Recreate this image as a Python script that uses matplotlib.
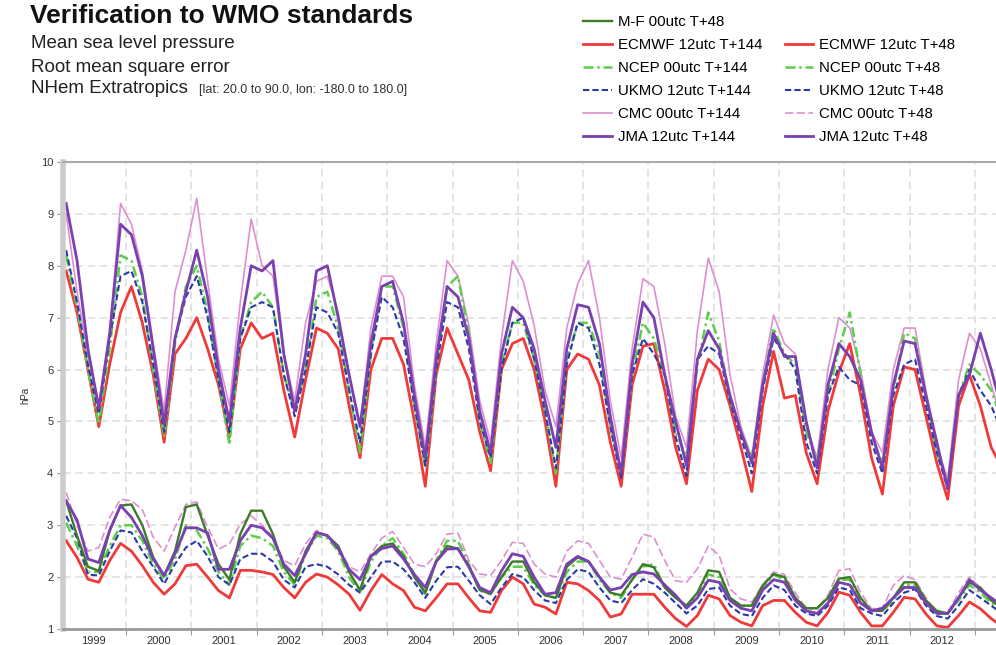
import numpy as np
import matplotlib.pyplot as plt
from matplotlib.lines import Line2D

plt.rcParams['font.family'] = ['Liberation Sans', 'DejaVu Sans']

# samples every second month (Feb, Apr, Jun, Aug, Oct, Dec) starting Feb 1999
months = np.arange(1, 174, 2)
t = 1999 + months / 12.0

year_labels = [str(y) for y in range(1999, 2013)]

# ---- T+144 (upper group) ----
jma_144 = [9.2, 8.1, 6.4, 5.25, 6.7, 8.8,
           8.6, 7.8, 6.4, 4.95, 6.6, 7.5,
           8.3, 7.4, 6.0, 5.0, 6.8, 8.0,
           7.9, 8.1, 6.3, 5.2, 6.3, 7.9,
           8.0, 7.0, 5.9, 4.9, 6.5, 7.6,
           7.7, 6.9, 5.5, 4.3, 6.2, 7.6,
           7.4, 6.6, 5.2, 4.4, 6.3, 7.2,
           7.0, 6.4, 5.4, 4.5, 6.4, 7.25,
           7.2, 6.5, 5.1, 4.0, 6.1, 7.3,
           7.0, 5.9, 5.0, 4.15, 6.2, 6.75,
           6.4, 5.5, 4.8, 4.2, 5.7, 6.7,
           6.25, 6.25, 5.0, 4.1, 5.7, 6.5,
           6.25, 5.8, 4.8, 4.1, 5.7, 6.55,
           6.5, 5.5, 4.6, 3.7, 5.5, 5.9,
           6.7, 6.0, 5.2]
cmc_144 = [9.0, 7.5, 6.3, 5.35, 6.7, 9.2,
           8.8, 7.9, 6.5, 5.2, 7.5, 8.3,
           9.3, 7.7, 6.2, 5.3, 7.3, 8.9,
           8.0, 7.8, 6.3, 5.4, 6.9, 7.7,
           7.8, 7.1, 5.9, 4.9, 6.8, 7.8,
           7.8, 7.4, 5.7, 4.5, 6.5, 8.1,
           7.8, 6.85, 5.4, 4.6, 6.6, 8.1,
           7.7, 6.85, 5.6, 4.9, 6.8, 7.65,
           8.1, 7.0, 5.4, 4.3, 6.4, 7.75,
           7.6, 6.5, 5.1, 4.5, 6.75, 8.15,
           7.5, 5.9, 4.9, 4.3, 5.9, 7.05,
           6.5, 6.3, 4.9, 4.3, 6.0, 7.0,
           6.8, 6.0, 4.8, 4.4, 6.0, 6.8,
           6.8, 5.6, 4.5, 3.9, 5.8, 6.7,
           6.4, 5.7, 5.0]
ukmo_144 = [8.3, 7.3, 6.1, 5.15, 6.6, 7.8,
            7.9, 7.3, 6.1, 4.8, 6.6, 7.4,
            7.8, 7.0, 5.8, 4.8, 6.6, 7.2,
            7.3, 7.2, 5.9, 5.1, 6.0, 7.2,
            7.1, 6.7, 5.6, 4.6, 6.3, 7.4,
            7.2, 6.6, 5.3, 4.15, 6.0, 7.3,
            7.2, 6.4, 5.0, 4.3, 6.0, 6.9,
            7.0, 6.2, 5.2, 4.1, 6.1, 6.9,
            6.8, 6.1, 4.9, 3.9, 5.9, 6.6,
            6.3, 5.9, 4.7, 3.95, 6.2, 6.45,
            6.3, 5.4, 4.7, 4.0, 5.6, 6.6,
            6.3, 6.0, 4.6, 4.0, 5.5, 6.05,
            5.8, 5.7, 4.6, 4.0, 5.5, 6.1,
            6.2, 5.3, 4.4, 3.7, 5.5, 6.0,
            5.6, 5.3, 4.8]
ncep_144 = [8.2, 7.2, 6.0, 4.95, 6.4, 8.2,
            8.1, 7.4, 6.0, 4.7, 6.5, 7.6,
            8.0, 7.1, 5.8, 4.55, 6.6, 7.3,
            7.5, 7.2, 5.9, 5.2, 6.0, 7.4,
            7.5, 6.8, 5.6, 4.4, 6.3, 7.6,
            7.6, 6.8, 5.3, 4.1, 6.0, 7.6,
            7.8, 6.7, 5.0, 4.2, 6.1, 6.9,
            6.9, 6.2, 5.2, 4.0, 6.2, 6.9,
            6.9, 6.3, 4.9, 4.0, 5.9, 6.9,
            6.6, 5.9, 4.8, 4.3, 6.1, 7.1,
            6.55, 5.4, 4.8, 4.3, 5.7, 6.8,
            6.3, 6.1, 4.8, 4.25, 5.5, 6.4,
            7.1, 5.9, 4.7, 4.2, 5.6, 6.7,
            6.6, 5.5, 4.4, 3.8, 5.5, 6.1,
            5.9, 5.6, 5.0]
ecmwf_144 = [7.9, 7.1, 6.0, 4.9, 6.1, 7.1,
             7.6, 6.9, 5.9, 4.6, 6.3, 6.6,
             7.0, 6.4, 5.7, 4.7, 6.4, 6.9,
             6.6, 6.7, 5.6, 4.7, 5.8, 6.8,
             6.7, 6.4, 5.3, 4.3, 6.0, 6.6,
             6.6, 6.1, 5.0, 3.75, 5.9, 6.8,
             6.3, 5.8, 4.8, 4.05, 6.0, 6.5,
             6.6, 6.0, 5.0, 3.75, 6.0, 6.3,
             6.2, 5.7, 4.6, 3.75, 5.7, 6.45,
             6.5, 5.6, 4.5, 3.8, 5.6, 6.2,
             6.0, 5.3, 4.5, 3.65, 5.3, 6.35,
             5.45, 5.5, 4.4, 3.8, 5.2, 5.95,
             6.5, 5.5, 4.3, 3.6, 5.3, 6.05,
             6.0, 5.1, 4.2, 3.5, 5.3, 5.9,
             5.3, 4.5, 4.1]

# ---- T+48 (lower group) ----
cmc_48 = [3.63, 3.0, 2.5, 2.57, 3.15, 3.5,
          3.47, 3.3, 2.77, 2.5, 2.96, 3.4,
          3.45, 2.96, 2.54, 2.64, 3.02, 3.18,
          3.0, 2.77, 2.32, 2.22, 2.64, 2.9,
          2.8, 2.6, 2.2, 2.1, 2.45, 2.75,
          2.88, 2.57, 2.25, 2.2, 2.45, 2.83,
          2.85, 2.32, 2.06, 2.03, 2.32, 2.67,
          2.65, 2.25, 2.06, 2.0, 2.5, 2.7,
          2.65, 2.32, 2.0, 1.96, 2.38, 2.83,
          2.77, 2.32, 1.93, 1.9, 2.16, 2.6,
          2.42, 1.77, 1.58, 1.52, 1.85, 2.1,
          2.05, 1.7, 1.39, 1.4, 1.65, 2.13,
          2.16, 1.7, 1.39, 1.4, 1.84, 2.03,
          1.95, 1.6, 1.32, 1.32, 1.7, 2.0,
          1.8, 1.6, 1.45]
mf_48 = [3.47, 2.8, 2.2, 2.12, 2.9, 3.38,
         3.4, 3.0, 2.38, 2.03, 2.5, 3.35,
         3.4, 2.8, 2.25, 1.95, 2.83, 3.28,
         3.28, 2.83, 2.2, 1.9, 2.5, 2.86,
         2.8, 2.6, 2.1, 1.75, 2.4, 2.6,
         2.65, 2.4, 2.0, 1.7, 2.3, 2.6,
         2.55, 2.2, 1.75, 1.68, 2.0, 2.3,
         2.3, 1.9, 1.65, 1.6, 2.2, 2.38,
         2.3, 2.0, 1.7, 1.65, 1.95, 2.25,
         2.19, 1.8, 1.6, 1.45, 1.7, 2.13,
         2.1, 1.6, 1.45, 1.45, 1.84, 2.06,
         2.0, 1.6, 1.4, 1.4, 1.6, 1.97,
         2.0, 1.6, 1.35, 1.35, 1.6, 1.9,
         1.9, 1.55, 1.35, 1.3, 1.6, 1.9,
         1.8, 1.55, 1.4]
jma_48 = [3.47, 3.1, 2.35, 2.28, 2.9, 3.38,
          3.15, 2.8, 2.35, 2.03, 2.45, 2.95,
          2.95, 2.85, 2.15, 2.15, 2.7, 3.0,
          2.95, 2.75, 2.25, 2.03, 2.45, 2.86,
          2.8, 2.55, 2.15, 1.95, 2.4, 2.55,
          2.6, 2.35, 2.05, 1.8, 2.3, 2.54,
          2.55, 2.2, 1.8, 1.7, 2.12, 2.45,
          2.4, 2.0, 1.67, 1.7, 2.25, 2.4,
          2.3, 2.0, 1.75, 1.8, 2.05, 2.1,
          2.06, 1.85, 1.65, 1.4, 1.6, 1.94,
          1.9, 1.55, 1.4, 1.35, 1.75, 1.95,
          1.9, 1.55, 1.35, 1.3, 1.5, 1.9,
          1.85, 1.5, 1.35, 1.4, 1.6, 1.8,
          1.8, 1.5, 1.3, 1.3, 1.6, 1.95,
          1.75, 1.6, 1.45]
ncep_48 = [3.05, 2.6, 2.1, 2.1, 2.6, 3.0,
           3.0, 2.7, 2.25, 1.96, 2.35, 3.0,
           2.9, 2.55, 2.1, 1.85, 2.6, 2.8,
           2.75, 2.6, 2.1, 1.85, 2.45, 2.8,
           2.75, 2.5, 2.0, 1.7, 2.3, 2.6,
           2.75, 2.45, 2.05, 1.67, 2.32, 2.7,
           2.7, 2.25, 1.74, 1.67, 2.0, 2.2,
           2.2, 1.85, 1.65, 1.6, 2.1, 2.3,
           2.3, 1.95, 1.7, 1.6, 1.95, 2.2,
           2.25, 1.8, 1.6, 1.45, 1.65, 2.05,
           2.0, 1.6, 1.45, 1.45, 1.8, 2.05,
           1.95, 1.6, 1.4, 1.4, 1.6, 1.95,
           1.95, 1.55, 1.35, 1.35, 1.55, 1.85,
           1.85, 1.55, 1.3, 1.3, 1.55, 1.85,
           1.7, 1.5, 1.35]
ukmo_48 = [3.18, 2.75, 2.05, 2.03, 2.5, 2.9,
           2.86, 2.5, 2.2, 1.87, 2.25, 2.57,
           2.7, 2.4, 2.0, 1.85, 2.35, 2.45,
           2.45, 2.3, 1.95, 1.8, 2.2, 2.25,
           2.2, 2.05, 1.85, 1.7, 2.0, 2.3,
           2.3, 2.15, 1.9, 1.6, 1.93, 2.19,
           2.2, 1.93, 1.65, 1.48, 1.8, 2.06,
           2.0, 1.75, 1.55, 1.5, 1.95, 2.15,
           2.1, 1.8, 1.55, 1.5, 1.75, 1.96,
           1.87, 1.7, 1.5, 1.3, 1.45, 1.77,
           1.8, 1.45, 1.29, 1.25, 1.6, 1.84,
           1.75, 1.45, 1.3, 1.25, 1.45, 1.8,
           1.75, 1.4, 1.3, 1.25, 1.5, 1.7,
           1.77, 1.45, 1.25, 1.2, 1.45, 1.75,
           1.6, 1.45, 1.3]
ecmwf_48 = [2.7, 2.38, 1.96, 1.9, 2.32, 2.65,
            2.5, 2.22, 1.9, 1.67, 1.87, 2.22,
            2.25, 2.0, 1.74, 1.6, 2.13, 2.13,
            2.1, 2.05, 1.8, 1.6, 1.9, 2.06,
            2.0, 1.85, 1.67, 1.36, 1.74, 2.05,
            1.87, 1.74, 1.42, 1.35, 1.6, 1.87,
            1.87, 1.6, 1.35, 1.32, 1.74, 2.0,
            1.87, 1.48, 1.42, 1.29, 1.9, 1.87,
            1.74, 1.55, 1.23, 1.29, 1.67, 1.67,
            1.67, 1.42, 1.2, 1.05, 1.26, 1.65,
            1.58, 1.26, 1.13, 1.06, 1.45, 1.55,
            1.55, 1.32, 1.13, 1.06, 1.32, 1.71,
            1.65, 1.32, 1.06, 1.06, 1.32, 1.61,
            1.58, 1.29, 1.06, 1.03, 1.26, 1.52,
            1.39, 1.2, 1.05]

c_mf = "#3d7a2a"
c_ec = "#f03a3a"
c_ncep = "#5ccf4a"
c_ukmo = "#2b3aa8"
c_cmc = "#dd8fd0"
c_jma = "#7a3fb0"

fig = plt.figure(figsize=(9.96, 6.45), dpi=100)
ax = fig.add_axes([63 / 996, 1 - 629 / 645, (996 - 63) / 996, (629 - 162) / 645])

lines = {}
lines["cmc144"], = ax.plot(t, cmc_144, color=c_cmc, lw=1.2, label="CMC 00utc T+144")
lines["cmc48"], = ax.plot(t, cmc_48, color=c_cmc, lw=1.2, ls=(0, (5, 2)), label="CMC 00utc T+48")
lines["ec144"], = ax.plot(t, ecmwf_144, color=c_ec, lw=2.0, label="ECMWF 12utc T+144")
lines["ec48"], = ax.plot(t, ecmwf_48, color=c_ec, lw=2.0, label="ECMWF 12utc T+48")
lines["ncep144"], = ax.plot(t, ncep_144, color=c_ncep, lw=1.8, ls=(0, (4, 1.5, 1, 1.5)), label="NCEP 00utc T+144")
lines["ncep48"], = ax.plot(t, ncep_48, color=c_ncep, lw=1.8, ls=(0, (4, 1.5, 1, 1.5)), label="NCEP 00utc T+48")
lines["ukmo144"], = ax.plot(t, ukmo_144, color=c_ukmo, lw=1.5, ls=(0, (3, 1.5)), label="UKMO 12utc T+144")
lines["ukmo48"], = ax.plot(t, ukmo_48, color=c_ukmo, lw=1.5, ls=(0, (3, 1.5)), label="UKMO 12utc T+48")
lines["mf48"], = ax.plot(t, mf_48, color=c_mf, lw=1.7, label="M-F 00utc T+48")
lines["jma144"], = ax.plot(t, jma_144, color=c_jma, lw=2.0, label="JMA 12utc T+144")
lines["jma48"], = ax.plot(t, jma_48, color=c_jma, lw=2.0, label="JMA 12utc T+48")

ax.set_xlim(1999.035, 2013.323)
ax.set_ylim(1, 10)

ax.set_yticks(range(1, 11))
ax.set_xticks(range(2000, 2014))
ax.set_xticklabels([])
ax.set_xticks([y + 0.5 for y in range(1999, 2013)], minor=True)
ax.set_xticklabels(year_labels, minor=True)
ax.tick_params(axis="x", which="major", length=4, color="#999999", direction="out")
ax.tick_params(axis="x", which="minor", length=0, pad=5, labelsize=8, labelcolor="#333333")
ax.tick_params(axis="y", length=4, color="#999999", pad=3, labelsize=8, labelcolor="#333333")

ax.grid(True, which="major", color="#dddddd", ls=(0, (5, 3)), lw=1.1)
ax.set_axisbelow(True)

ax.spines["right"].set_visible(False)
ax.spines["top"].set_color("#aaaaaa")
ax.spines["top"].set_linewidth(1.5)
ax.spines["left"].set_color("#cccccc")
ax.spines["left"].set_linewidth(4)
ax.spines["bottom"].set_color("#999999")
ax.spines["bottom"].set_linewidth(2)

fig.text(25 / 996, 1 - 395 / 645, "hPa", rotation=90, ha="center", va="center",
         fontsize=7, color="#333333")

# header
fig.text(30 / 996, 1 - 23 / 645, "Verification to WMO standards", fontsize=19,
         fontweight="bold", va="baseline", color="#111111")
fig.text(31 / 996, 1 - 48 / 645, "Mean sea level pressure", fontsize=13.5,
         va="baseline", color="#222222")
fig.text(31 / 996, 1 - 72 / 645, "Root mean square error", fontsize=13.5,
         va="baseline", color="#222222")
fig.text(31 / 996, 1 - 93 / 645, "NHem Extratropics", fontsize=13.5,
         va="baseline", color="#222222")
fig.text(199 / 996, 1 - 93 / 645, "[lat: 20.0 to 90.0, lon: -180.0 to 180.0]",
         fontsize=9, va="baseline", color="#333333")

blank = Line2D([], [], color="none", label=" ")
handles = [lines["mf48"], lines["ec144"], lines["ncep144"], lines["ukmo144"],
           lines["cmc144"], lines["jma144"],
           blank, lines["ec48"], lines["ncep48"], lines["ukmo48"],
           lines["cmc48"], lines["jma48"]]
fig.legend(handles=handles, labels=[h.get_label() for h in handles], ncol=2,
           loc="upper left", bbox_to_anchor=(583 / 996, 1 - 15 / 645),
           frameon=False, fontsize=10.8, handlelength=1.9, handletextpad=0.4,
           labelspacing=0.6, columnspacing=1.5, borderpad=0, borderaxespad=0)

fig.savefig("out.png", dpi=100)
